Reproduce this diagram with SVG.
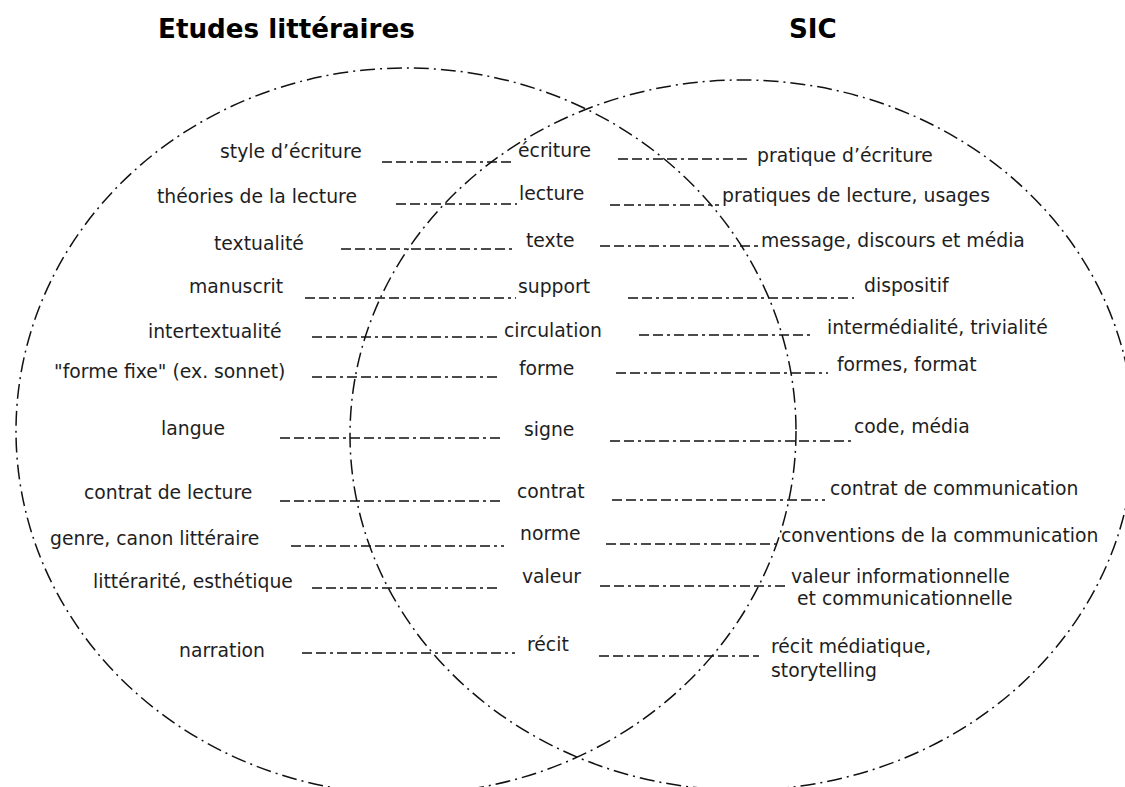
<svg xmlns="http://www.w3.org/2000/svg" width="1125" height="787" viewBox="0 0 1125 787">
<style>
.bg{fill:#ffffff}
.ell{fill:none;stroke:#111;stroke-width:1.5;stroke-dasharray:15 5 2 5}
.con{fill:none;stroke:#111;stroke-width:1.3;stroke-dasharray:10 4 10 4 3 4}
.t{font-family:"DejaVu Sans",Verdana,sans-serif;font-size:18.8px;fill:#1e1e1e}
.h{font-family:"DejaVu Sans",Verdana,sans-serif;font-size:26.2px;font-weight:bold;fill:#000}
</style>
<rect class="bg" x="0" y="0" width="1125" height="787"/>
<g id="circles">
<ellipse id="ellipse-etudes" class="ell" cx="406" cy="431" rx="390" ry="363"/>
<ellipse id="ellipse-sic" class="ell" cx="742" cy="435" rx="392" ry="355"/>
</g>
<g id="headers">
<text id="h-etudes" class="h" x="158" y="38">Etudes littéraires</text>
<text id="h-sic" class="h" x="789" y="38">SIC</text>
</g>
<g id="connectors">
<line class="con" x1="382" y1="162" x2="514" y2="162"/>
<line class="con" x1="618" y1="159" x2="749" y2="159"/>
<line class="con" x1="396" y1="204" x2="517" y2="204"/>
<line class="con" x1="610" y1="205" x2="719" y2="205"/>
<line class="con" x1="341" y1="249" x2="515" y2="249"/>
<line class="con" x1="600" y1="246" x2="758" y2="246"/>
<line class="con" x1="305" y1="298" x2="516" y2="298"/>
<line class="con" x1="628" y1="298" x2="854" y2="298"/>
<line class="con" x1="312" y1="337" x2="499" y2="337"/>
<line class="con" x1="639" y1="335" x2="810" y2="335"/>
<line class="con" x1="312" y1="377" x2="499" y2="377"/>
<line class="con" x1="616" y1="373" x2="828" y2="373"/>
<line class="con" x1="280" y1="438" x2="504" y2="438"/>
<line class="con" x1="610" y1="441" x2="854" y2="441"/>
<line class="con" x1="280" y1="501" x2="504" y2="501"/>
<line class="con" x1="612" y1="500" x2="825" y2="500"/>
<line class="con" x1="291" y1="546" x2="504" y2="546"/>
<line class="con" x1="606" y1="544" x2="780" y2="544"/>
<line class="con" x1="312" y1="588" x2="498" y2="588"/>
<line class="con" x1="600" y1="586" x2="788" y2="586"/>
<line class="con" x1="302" y1="653" x2="515" y2="653"/>
<line class="con" x1="599" y1="656" x2="759" y2="656"/>
</g>
<g id="n-style"><text class="t" x="220" y="158">style d’écriture</text></g>
<g id="n-theories"><text class="t" x="157" y="203">théories de la lecture</text></g>
<g id="n-textualite"><text class="t" x="214" y="250">textualité</text></g>
<g id="n-manuscrit"><text class="t" x="189" y="293">manuscrit</text></g>
<g id="n-intertextualite"><text class="t" x="148" y="338">intertextualité</text></g>
<g id="n-formefixe"><text class="t" x="54" y="378">"forme fixe" (ex. sonnet)</text></g>
<g id="n-langue"><text class="t" x="161" y="435">langue</text></g>
<g id="n-contratlecture"><text class="t" x="84" y="499">contrat de lecture</text></g>
<g id="n-genre"><text class="t" x="50" y="545">genre, canon littéraire</text></g>
<g id="n-litterarite"><text class="t" x="93" y="588">littérarité, esthétique</text></g>
<g id="n-narration"><text class="t" x="179" y="657">narration</text></g>
<g id="n-ecriture"><text class="t" x="518" y="157">écriture</text></g>
<g id="n-lecture"><text class="t" x="519" y="200">lecture</text></g>
<g id="n-texte"><text class="t" x="526" y="247">texte</text></g>
<g id="n-support"><text class="t" x="518" y="293">support</text></g>
<g id="n-circulation"><text class="t" x="504" y="337">circulation</text></g>
<g id="n-forme"><text class="t" x="519" y="375">forme</text></g>
<g id="n-signe"><text class="t" x="524" y="436">signe</text></g>
<g id="n-contrat"><text class="t" x="517" y="498">contrat</text></g>
<g id="n-norme"><text class="t" x="520" y="540">norme</text></g>
<g id="n-valeur"><text class="t" x="522" y="583">valeur</text></g>
<g id="n-recit"><text class="t" x="527" y="651">récit</text></g>
<g id="n-pratique"><text class="t" x="757" y="162">pratique d’écriture</text></g>
<g id="n-pratiques"><text class="t" x="722" y="202">pratiques de lecture, usages</text></g>
<g id="n-message"><text class="t" x="761" y="247">message, discours et média</text></g>
<g id="n-dispositif"><text class="t" x="864" y="292">dispositif</text></g>
<g id="n-intermedialite"><text class="t" x="827" y="334">intermédialité, trivialité</text></g>
<g id="n-formes"><text class="t" x="837" y="371">formes, format</text></g>
<g id="n-code"><text class="t" x="854" y="433">code, média</text></g>
<g id="n-contratcomm"><text class="t" x="830" y="495">contrat de communication</text></g>
<g id="n-conventions"><text class="t" x="781" y="542">conventions de la communication</text></g>
<g id="n-valeurinfo"><text class="t" x="791" y="583">valeur informationnelle</text><text class="t" x="797" y="605">et communicationnelle</text></g>
<g id="n-recitmed"><text class="t" x="771" y="653">récit médiatique,</text><text class="t" x="771" y="677">storytelling</text></g>
</svg>
